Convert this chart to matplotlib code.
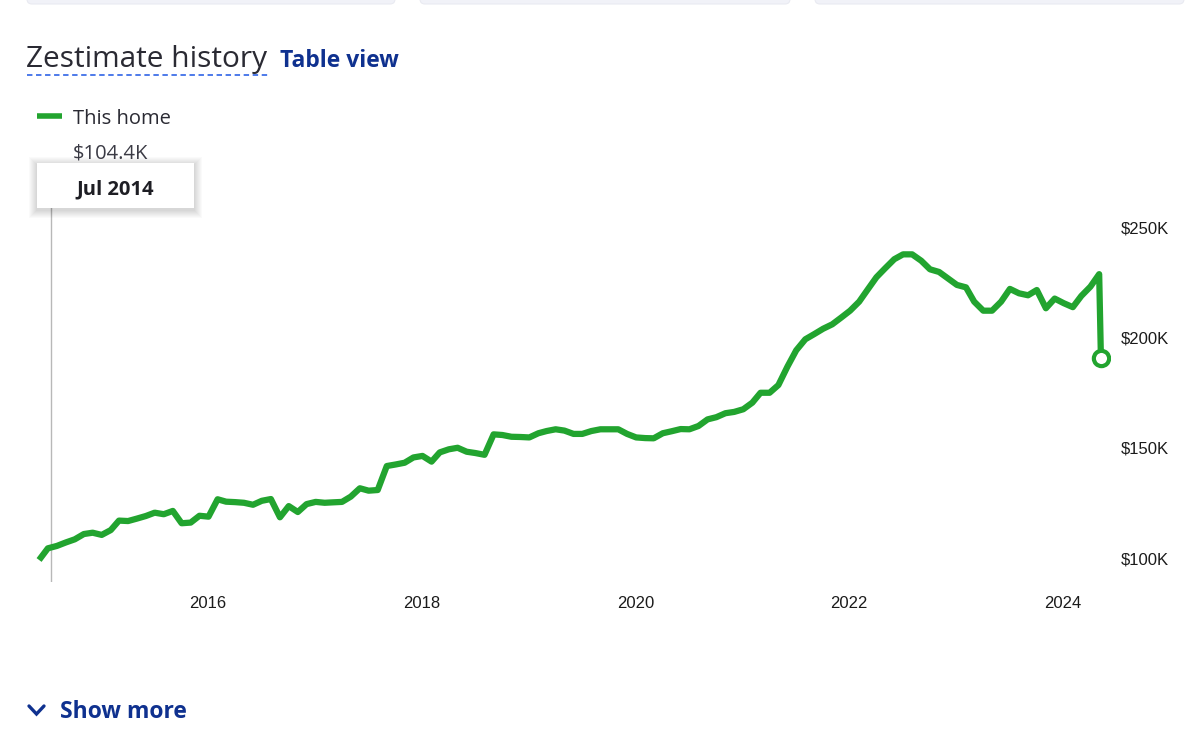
import matplotlib
matplotlib.use("Agg")
import matplotlib.pyplot as plt
from matplotlib.patches import FancyBboxPatch, Rectangle
import pandas as pd

# zestimate values in $K, one per month from Jun 2014 to May 2024
values = [
    99.1, 104.4, 105.5, 107.1, 108.5, 110.9, 111.5, 110.5, 112.7, 117.0,
    116.8, 117.9, 119.1, 120.6, 119.9, 121.4, 115.8, 116.1, 119.2, 118.8,
    126.7, 125.6, 125.4, 125.1, 124.2, 126.0, 126.8, 118.5, 123.6, 120.9,
    124.5, 125.5, 125.1, 125.3, 125.5, 127.9, 131.7, 130.6, 130.9, 141.8,
    142.5, 143.3, 145.7, 146.4, 143.8, 148.0, 149.4, 150.1, 148.3, 147.7,
    146.9, 156.2, 155.9, 155.1, 155.0, 154.8, 156.7, 157.7, 158.5, 157.9,
    156.4, 156.4, 157.7, 158.5, 158.5, 158.5, 156.4, 154.8, 154.5, 154.4,
    156.7, 157.6, 158.6, 158.5, 160.0, 163.0, 164.0, 165.8, 166.4, 167.6,
    170.6, 175.1, 175.1, 178.6, 187.0, 194.4, 199.4, 201.8, 204.2, 206.2,
    209.2, 212.4, 216.5, 221.8, 227.6, 231.7, 235.8, 238.0, 238.0, 235.1,
    231.2, 230.0, 227.1, 224.1, 223.0, 216.5, 212.4, 212.4, 216.5, 222.3,
    220.3, 219.4, 221.8, 213.5, 217.9, 215.8, 214.0, 219.1, 223.3, 229.0,
]
start_month = "2014-06-01"
latest_date = "2024-05-10"
latest_value = 190.8

hover_date = "2014-07-15"
hover_label = "Jul 2014"
hover_value = "$104.4K"

y_ticks = [100, 150, 200, 250]
y_labels = ["$100K", "$150K", "$200K", "$250K"]
x_ticks = ["2016-01-01", "2018-01-01", "2020-01-01", "2022-01-01", "2024-01-01"]
x_labels = ["2016", "2018", "2020", "2022", "2024"]

GREEN = "#22a42f"
NAVY = "#0f318f"
DARK = "#2a2a33"

dates = pd.date_range(start_month, periods=len(values), freq="MS") + pd.Timedelta(days=3)
xs = list(dates) + [pd.Timestamp(latest_date)]
ys = values + [latest_value]

W, H = 1200, 755
fig = plt.figure(figsize=(W / 100, H / 100), dpi=100)
fig.patch.set_facecolor("white")

# chart axes, placed in pixel terms
left, right, top, bottom = 30, 1110, 200, 582
ax = fig.add_axes([left / W, 1 - bottom / H, (right - left) / W, (bottom - top) / H])
ax.set_facecolor("none")
ax.plot(xs, ys, color=GREEN, lw=4.5, solid_joinstyle="round", solid_capstyle="butt", zorder=3)
ax.plot([xs[-1]], [ys[-1]], "o", ms=11, mfc="white", mec=GREEN, mew=3, zorder=4)
ax.axvline(pd.Timestamp(hover_date), color="#b8b8b8", lw=1, zorder=1)

ax.set_xlim(pd.Timestamp("2014-05-04"), pd.Timestamp("2024-06-10"))
ax.set_ylim(89.1, 262.7)
ax.set_xticks([pd.Timestamp(t) for t in x_ticks])
ax.set_xticklabels(x_labels)
ax.set_yticks(y_ticks)
ax.set_yticklabels(y_labels)
ax.yaxis.tick_right()
ax.tick_params(length=0, labelsize=12, labelcolor="#1b1b1b")
ax.tick_params(axis="x", pad=10)
ax.tick_params(axis="y", pad=7.5)
for lab in ax.get_xticklabels() + ax.get_yticklabels():
    lab.set_fontfamily("Liberation Sans")
for s in ax.spines.values():
    s.set_visible(False)

# overlay for page decorations, pixel coordinates
ov = fig.add_axes([0, 0, 1, 1], zorder=5)
ov.set_xlim(0, W)
ov.set_ylim(H, 0)
ov.axis("off")
ov.patch.set_alpha(0)

# cards cut off at the top
for x0, x1 in [(27, 395), (420, 790), (815, 1184)]:
    ov.add_patch(FancyBboxPatch((x0, -20), x1 - x0, 24, boxstyle="round,pad=0,rounding_size=5",
                                fc="#f1f2f8", ec="#e9eaf1", lw=0.8))

ov.text(26, 66.7, "Zestimate history", fontsize=21.5, color=DARK, family="Open Sans", va="baseline")
ov.plot([27, 268], [75, 75], color="#3f6fe8", lw=1.3, dashes=(3, 2))
ov.text(280, 66.7, "Table view", fontsize=16.5, color=NAVY, family="Open Sans",
        fontweight="bold", va="baseline")

ov.plot([37, 62], [116, 116], color=GREEN, lw=4, solid_capstyle="butt")
ov.text(73, 124, "This home", fontsize=14.5, color=DARK, family="Open Sans", va="baseline")
ov.text(73, 158, hover_value, fontsize=14.5, color="#3b3b45", family="Open Sans", va="baseline")

# tooltip with a soft shadow
for g in range(8, 0, -1):
    ov.add_patch(Rectangle((37 - g, 163 - g + 2), 157 + 2 * g, 45 + 2 * g, fc="black", ec="none", alpha=0.018))
ov.add_patch(Rectangle((37, 163), 157, 45, fc="white", ec="none"))
ov.text(115.5, 194, hover_label, fontsize=14.5, color="#1e1e24", family="Open Sans",
        fontweight="bold", ha="center", va="baseline")

ov.plot([29, 36.5, 44], [706, 714, 706], color=NAVY, lw=2.4, solid_capstyle="round", solid_joinstyle="miter")
ov.text(60, 718, "Show more", fontsize=16.5, color=NAVY, family="Open Sans",
        fontweight="bold", va="baseline")

fig.savefig("out.png", dpi=100)
